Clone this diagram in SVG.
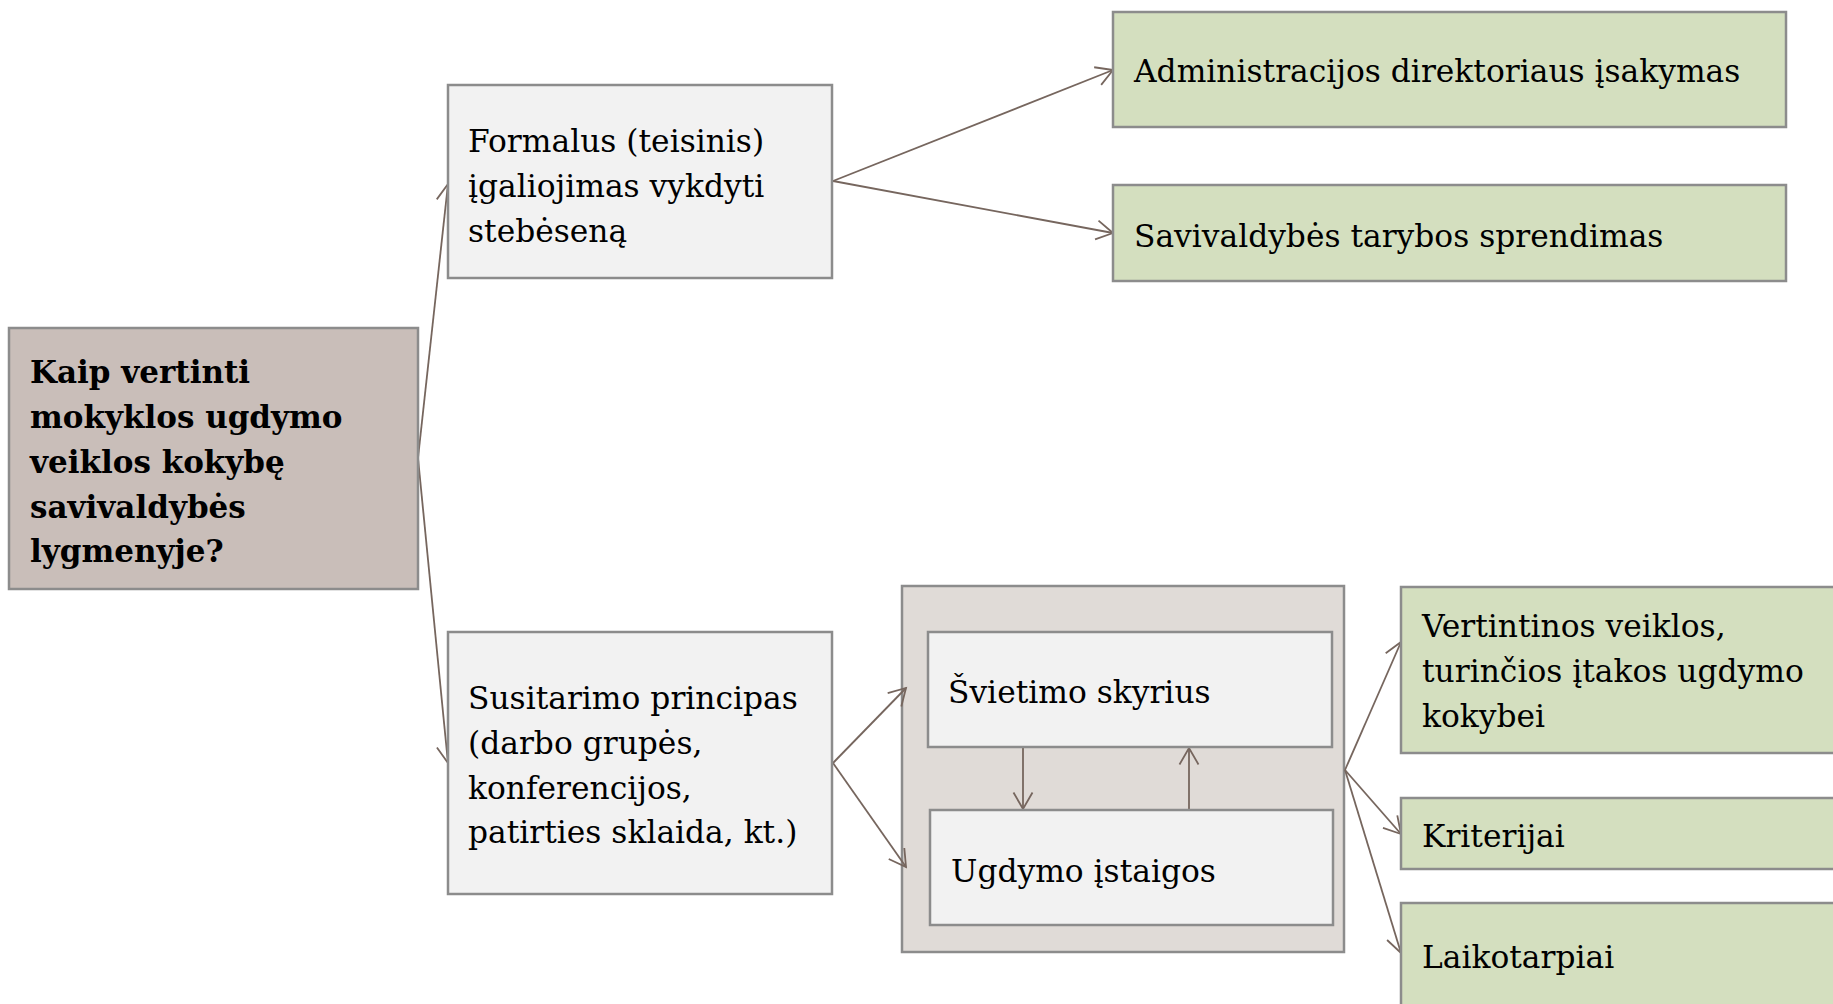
<svg xmlns="http://www.w3.org/2000/svg" width="1833" height="1004" viewBox="0 0 1833 1004">
<style>
.box{stroke:#8c8c8c;stroke-width:2.5}
.main{fill:#c9beb9}
.light{fill:#f2f2f2}
.green{fill:#d4dfbf}
.cont{fill:#e0dbd7}
.t{font-family:"DejaVu Serif","Liberation Serif",serif;font-size:31.3px;fill:#000}
.b{font-weight:bold;font-size:31px}
.c{fill:none;stroke:#76665e;stroke-width:1.8}
</style>
<defs>
<marker id="arr" markerUnits="userSpaceOnUse" viewBox="-20 -12 24 24" markerWidth="24" markerHeight="24" refX="0" refY="0" orient="auto" overflow="visible">
<path d="M-16.5,-9.5 L0,0 L-16.5,9.5" fill="none" stroke="#76665e" stroke-width="1.8"/>
</marker>
</defs>
<rect width="1833" height="1004" fill="#ffffff"/>
<g id="container">
<rect class="box cont" x="902" y="586" width="442" height="366"/>
</g>
<g id="connectors">
<line class="c" x1="418" y1="458" x2="448" y2="184" marker-end="url(#arr)"/>
<line class="c" x1="418" y1="458" x2="448" y2="763" marker-end="url(#arr)"/>
<line class="c" x1="833" y1="181" x2="1113" y2="70" marker-end="url(#arr)"/>
<line class="c" x1="833" y1="181" x2="1113" y2="233" marker-end="url(#arr)"/>
<line class="c" x1="833" y1="763" x2="906" y2="688" marker-end="url(#arr)"/>
<line class="c" x1="833" y1="763" x2="906" y2="867" marker-end="url(#arr)"/>
<line class="c" x1="1023" y1="747" x2="1023" y2="809" marker-end="url(#arr)"/>
<line class="c" x1="1189" y1="810" x2="1189" y2="748" marker-end="url(#arr)"/>
<line class="c" x1="1345" y1="770" x2="1401" y2="642" marker-end="url(#arr)"/>
<line class="c" x1="1345" y1="770" x2="1401" y2="834" marker-end="url(#arr)"/>
<line class="c" x1="1345" y1="770" x2="1401" y2="953" marker-end="url(#arr)"/>
</g>
<g id="main">
<rect class="box main" x="9" y="328" width="409" height="261"/>
<text class="t b" x="30" y="383">Kaip vertinti</text>
<text class="t b" x="30" y="428">mokyklos ugdymo</text>
<text class="t b" x="30" y="473">veiklos kokybę</text>
<text class="t b" x="30" y="518">savivaldybės</text>
<text class="t b" x="30" y="562">lygmenyje?</text>
</g>
<g id="formalus">
<rect class="box light" x="448" y="85" width="384" height="193"/>
<text class="t" x="468" y="152">Formalus (teisinis)</text>
<text class="t" x="468" y="197">įgaliojimas vykdyti</text>
<text class="t" x="468" y="242">stebėseną</text>
</g>
<g id="administracijos">
<rect class="box green" x="1113" y="12" width="673" height="115"/>
<text class="t" x="1134" y="82">Administracijos direktoriaus įsakymas</text>
</g>
<g id="savivaldybes">
<rect class="box green" x="1113" y="185" width="673" height="96"/>
<text class="t" x="1134" y="247">Savivaldybės tarybos sprendimas</text>
</g>
<g id="susitarimo">
<rect class="box light" x="448" y="632" width="384" height="262"/>
<text class="t" x="468" y="709">Susitarimo principas</text>
<text class="t" x="468" y="754">(darbo grupės,</text>
<text class="t" x="468" y="799">konferencijos,</text>
<text class="t" x="468" y="843">patirties sklaida, kt.)</text>
</g>
<g id="svietimo">
<rect class="box light" x="928" y="632" width="404" height="115"/>
<text class="t" x="948" y="703">Švietimo skyrius</text>
</g>
<g id="ugdymo">
<rect class="box light" x="930" y="810" width="403" height="115"/>
<text class="t" x="951" y="882">Ugdymo įstaigos</text>
</g>
<g id="vertintinos">
<rect class="box green" x="1401" y="587" width="450" height="166"/>
<text class="t" x="1422" y="637">Vertintinos veiklos,</text>
<text class="t" x="1422" y="682">turinčios įtakos ugdymo</text>
<text class="t" x="1422" y="727">kokybei</text>
</g>
<g id="kriterijai">
<rect class="box green" x="1401" y="798" width="450" height="71"/>
<text class="t" x="1422" y="847">Kriterijai</text>
</g>
<g id="laikotarpiai">
<rect class="box green" x="1401" y="903" width="450" height="120"/>
<text class="t" x="1422" y="968">Laikotarpiai</text>
</g>
</svg>
